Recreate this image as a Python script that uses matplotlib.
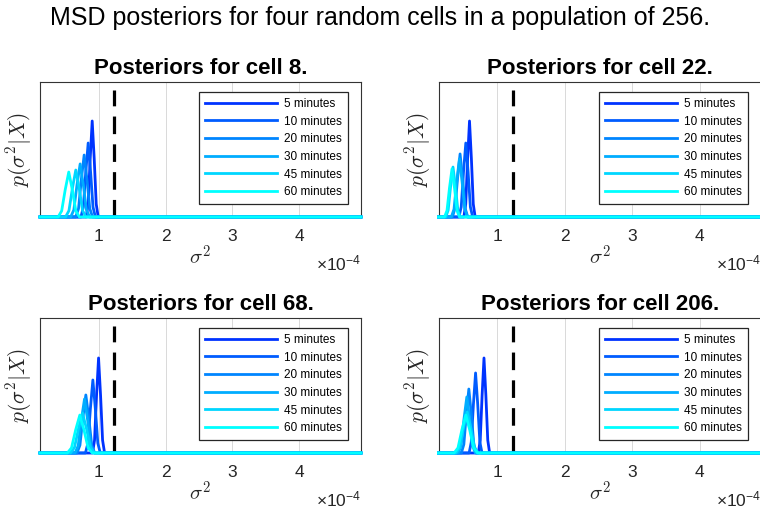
import matplotlib.pyplot as plt
import numpy as np

plt.rcParams['font.family'] = ['Liberation Sans', 'DejaVu Sans']
plt.rcParams['mathtext.fontset'] = 'cm'

minutes = ['5 minutes', '10 minutes', '20 minutes', '30 minutes', '45 minutes', '60 minutes']
colors = [(0, 0.2, 1), (0, 0.36, 1), (0, 0.52, 1), (0, 0.68, 1), (0, 0.84, 1), (0, 1, 1)]
cells = [8, 22, 68, 206]
threshold = 1.23          # dashed line, in units of 1e-4
xlim = (0.125, 4.92)
dash_top = 0.94

# posterior samples (sigma^2 in units of 1e-4, density in arbitrary units)
cell8_x = [
    [0.815, 0.845, 0.875, 0.905, 0.935, 0.965, 0.995],
    [0.737, 0.773, 0.809, 0.845, 0.881, 0.917, 0.953],
    [0.659, 0.701, 0.743, 0.785, 0.827, 0.869, 0.911],
    [0.584, 0.631, 0.678, 0.725, 0.772, 0.819, 0.866],
    [0.507, 0.558, 0.609, 0.660, 0.711, 0.762, 0.813],
    [0.396, 0.449, 0.502, 0.555, 0.608, 0.661, 0.714],
]
cell8_y = [
    [0, 0.096, 0.432, 0.711, 0.432, 0.096, 0],
    [0, 0.074, 0.333, 0.548, 0.333, 0.074, 0],
    [0, 0.062, 0.279, 0.459, 0.279, 0.062, 0],
    [0, 0.053, 0.239, 0.393, 0.239, 0.053, 0],
    [0, 0.047, 0.211, 0.348, 0.211, 0.047, 0],
    [0, 0.045, 0.202, 0.333, 0.202, 0.045, 0],
]
cell22_x = [
    [0.501, 0.529, 0.557, 0.585, 0.613, 0.641, 0.669],
    [0.428, 0.462, 0.496, 0.530, 0.564, 0.598, 0.632],
    [0.331, 0.369, 0.407, 0.445, 0.483, 0.521, 0.559],
    [0.315, 0.355, 0.395, 0.435, 0.475, 0.515, 0.555],
    [0.232, 0.268, 0.304, 0.340, 0.376, 0.412, 0.448],
    [0.214, 0.251, 0.288, 0.325, 0.362, 0.399, 0.436],
]
cell22_y = [
    [0, 0.096, 0.432, 0.711, 0.432, 0.096, 0],
    [0, 0.074, 0.333, 0.548, 0.333, 0.074, 0],
    [0, 0.063, 0.283, 0.467, 0.283, 0.063, 0],
    [0, 0.058, 0.261, 0.430, 0.261, 0.058, 0],
    [0, 0.050, 0.225, 0.370, 0.225, 0.050, 0],
    [0, 0.048, 0.216, 0.356, 0.216, 0.048, 0],
]
cell68_x = [
    [0.910, 0.940, 0.970, 1.000, 1.030, 1.060, 1.090],
    [0.804, 0.841, 0.878, 0.915, 0.952, 0.989, 1.026],
    [0.678, 0.722, 0.766, 0.810, 0.854, 0.898, 0.942],
    [0.649, 0.696, 0.743, 0.790, 0.837, 0.884, 0.931],
    [0.580, 0.640, 0.700, 0.760, 0.820, 0.880, 0.940],
    [0.534, 0.596, 0.658, 0.720, 0.782, 0.844, 0.906],
]
cell68_y = [
    [0, 0.095, 0.427, 0.704, 0.427, 0.095, 0],
    [0, 0.073, 0.328, 0.541, 0.328, 0.073, 0],
    [0, 0.058, 0.261, 0.430, 0.261, 0.058, 0],
    [0, 0.054, 0.243, 0.400, 0.243, 0.054, 0],
    [0, 0.040, 0.180, 0.296, 0.180, 0.040, 0],
    [0, 0.038, 0.171, 0.281, 0.171, 0.038, 0],
]
cell206_x = [
    [0.716, 0.744, 0.772, 0.800, 0.828, 0.856, 0.884],
    [0.579, 0.611, 0.643, 0.675, 0.707, 0.739, 0.771],
    [0.464, 0.501, 0.538, 0.575, 0.612, 0.649, 0.686],
    [0.419, 0.461, 0.503, 0.545, 0.587, 0.629, 0.671],
    [0.385, 0.440, 0.495, 0.550, 0.605, 0.660, 0.715],
    [0.356, 0.414, 0.472, 0.530, 0.588, 0.646, 0.704],
]
cell206_y = [
    [0, 0.095, 0.427, 0.704, 0.427, 0.095, 0],
    [0, 0.080, 0.360, 0.593, 0.360, 0.080, 0],
    [0, 0.064, 0.288, 0.474, 0.288, 0.064, 0],
    [0, 0.056, 0.252, 0.415, 0.252, 0.056, 0],
    [0, 0.041, 0.185, 0.304, 0.185, 0.041, 0],
    [0, 0.038, 0.171, 0.281, 0.171, 0.038, 0],
]

all_x = [cell8_x, cell22_x, cell68_x, cell206_x]
all_y = [cell8_y, cell22_y, cell68_y, cell206_y]

fig = plt.figure(figsize=(7.6, 5.16), dpi=100)
fig.suptitle('MSD posteriors for four random cells in a population of 256.',
             fontsize=18, y=0.988)

# axes boxes [left, bottom, width, height] in figure fraction
boxes = [[0.0526, 0.5795, 0.4224, 0.2616],
         [0.5770, 0.5795, 0.4250, 0.2616],
         [0.0526, 0.1221, 0.4224, 0.2616],
         [0.5770, 0.1221, 0.4250, 0.2616]]

for i in range(4):
    ax = fig.add_axes(boxes[i])
    for k in range(len(minutes)):
        xs = [xlim[0]] + all_x[i][k] + [xlim[1]]
        ys = [0] + all_y[i][k] + [0]
        ax.plot(xs, ys, color=colors[k], lw=2.0, label=minutes[k], clip_on=False,
                zorder=3)
    ax.plot([threshold, threshold], [0, dash_top], color='black', lw=2.3,
            linestyle=(0, (5.5, 3.2)), zorder=2)
    ax.set_xlim(xlim)
    ax.set_ylim(0, 1)
    ax.set_xticks([1, 2, 3, 4])
    ax.set_yticks([])
    ax.grid(axis='x', color='0.85', lw=0.7)
    ax.tick_params(axis='x', length=0, pad=9, labelsize=12.5, colors='0.15')
    for s in ax.spines.values():
        s.set_color('0.2')
        s.set_linewidth(0.8)
    ax.set_title('Posteriors for cell %d.' % cells[i], fontsize=16,
                 fontweight='bold', pad=6)
    ax.set_xlabel(r'$\sigma^2$', fontsize=15, labelpad=0, color='0.15')
    ax.set_ylabel(r'$p(\sigma^2|X)$', fontsize=15.5, labelpad=4, color='0.15')
    ax.text(1.0, -0.393, r'$\mathregular{\times10^{-4}}$', transform=ax.transAxes,
            ha='right', va='baseline', fontsize=12.5, color='0.15')
    leg = ax.legend(loc='upper right', bbox_to_anchor=(0.959, 0.926),
                    borderaxespad=0, fontsize=8.5, handlelength=6.1,
                    handletextpad=0.6, labelspacing=0.48, fancybox=False,
                    framealpha=1, borderpad=0.5)
    leg.get_frame().set_edgecolor('0.15')
    leg.get_frame().set_linewidth(0.9)

plt.savefig('out.png', dpi=100)
